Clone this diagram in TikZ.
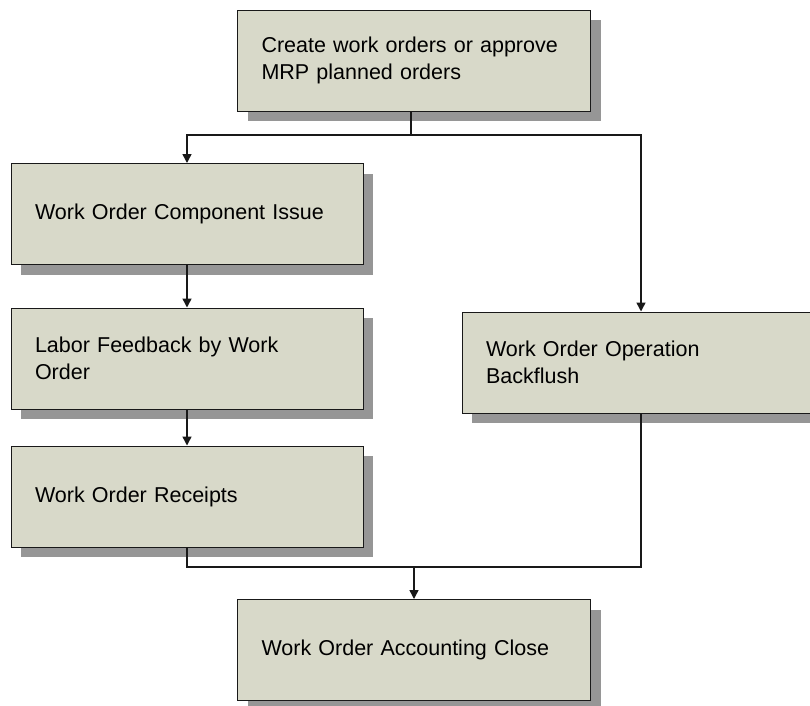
\documentclass[tikz,border=0pt]{standalone}
\usepackage{fontspec}
\setmainfont{Liberation Sans}
\usetikzlibrary{shadows,arrows.meta}
\definecolor{boxfill}{RGB}{216,217,201}
\definecolor{shadowgray}{RGB}{150,150,150}
\definecolor{edge}{RGB}{25,25,25}
\tikzset{
  flowbox/.style={draw=edge, line width=1pt, fill=boxfill, rectangle,
    align=left, inner xsep=24pt, inner ysep=0pt, minimum height=101pt,
    text width=305pt, font=\fontsize{21.5}{27}\selectfont,
    drop shadow={shadow xshift=10pt, shadow yshift=-10pt, fill=shadowgray, opacity=1, draw=none}},
  conn/.style={draw=edge, line width=1.5pt},
  arr/.style={conn, -{Triangle[length=9pt,width=9pt]}}
}
\begin{document}
\begin{tikzpicture}[x=1pt,y=-1pt]
\fill[white] (0,0) rectangle (810,705);
\useasboundingbox (0,0) rectangle (810,705);
\node[flowbox] (top) at (414,60.5) {Create work orders or approve\\MRP planned orders};
\node[flowbox, text width=304pt] (comp) at (187,214) {Work Order Component Issue};
\node[flowbox, text width=304pt] (labor) at (187,358.5) {Labor Feedback by Work\\Order};
\node[flowbox, text width=304pt] (rec) at (187,496.5) {Work Order Receipts};
\node[flowbox, text width=310pt] (back) at (641,362.5) {Work Order Operation\\Backflush};
\node[flowbox] (acc) at (414,650) {Work Order Accounting Close};
\coordinate (j1) at (411,135);
\coordinate (j2) at (414,567);
\draw[conn] (top.south -| j1) -- (j1);
\draw[arr] (j1) -| (comp.north);
\draw[arr] (j1) -| (back.north);
\draw[arr] (comp.south) -- (labor.north);
\draw[arr] (labor.south) -- (rec.north);
\draw[conn] (rec.south) |- (back.south |- j2) -- (back.south);
\draw[arr] (acc.north |- j2) -- (acc.north);
\end{tikzpicture}
\end{document}
